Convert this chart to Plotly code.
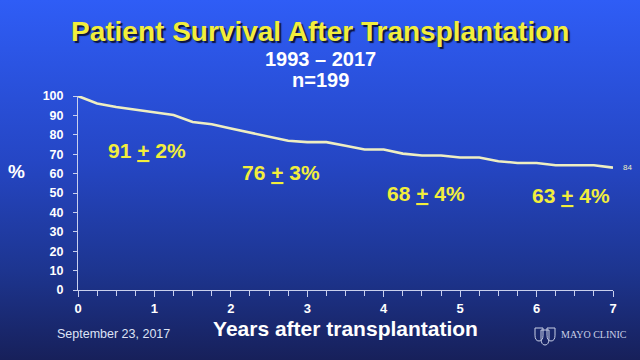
import base64
import plotly.graph_objects as go

# ---- data ----
years = [0, 0.25, 0.5, 0.75, 1.0, 1.25, 1.5, 1.75, 2.0, 2.25, 2.5, 2.75, 3.0, 3.25,
         3.5, 3.75, 4.0, 4.25, 4.5, 4.75, 5.0, 5.25, 5.5, 5.75, 6.0, 6.25, 6.5, 6.75, 7.0]
survival = [100, 96.1, 94.3, 93.0, 91.4, 90.2, 86.6, 85.4, 83.2, 81.0, 78.9, 76.9, 76.2, 76.2,
            74.4, 72.4, 72.4, 70.3, 69.3, 69.3, 68.3, 68.3, 66.4, 65.5, 65.5, 64.3, 64.3, 64.3, 63.1]
label_values = [91, 76, 68, 63]
label_errors = [2, 3, 4, 4]
label_y = [72, 60.5, 50, 48.5]
label_x = [0.9, 2.65, 4.55, 6.45]
x_ticks = [0, 1, 2, 3, 4, 5, 6, 7]
y_ticks = [0, 10, 20, 30, 40, 50, 60, 70, 80, 90, 100]
end_label = "84"

W, H = 640, 360
L, R, T, B = 78, 27, 96, 70
pw, ph = W - L - R, H - T - B


def px(xp, yp):
    return (xp - L) / pw, (H - yp - B) / ph


fig = go.Figure()
fig.add_trace(go.Scatter(
    x=years, y=survival, mode="lines",
    line=dict(color="#eeeec2", width=2.6), cliponaxis=False, hoverinfo="skip",
))

# gradient background as svg image
svg = (
    '<svg xmlns="http://www.w3.org/2000/svg" width="640" height="360" preserveAspectRatio="none">'
    '<defs><linearGradient id="g" x1="0" y1="0" x2="0" y2="1">'
    '<stop offset="0" stop-color="#2f5df6"/>'
    '<stop offset="0.45" stop-color="#2546c4"/>'
    '<stop offset="0.75" stop-color="#1d3590"/>'
    '<stop offset="1" stop-color="#17205a"/>'
    '</linearGradient></defs>'
    '<rect width="640" height="360" fill="url(#g)"/></svg>'
)
uri = "data:image/svg+xml;base64," + base64.b64encode(svg.encode()).decode()
fig.add_layout_image(dict(
    source=uri, xref="paper", yref="paper",
    x=-L / pw, y=1 + T / ph, sizex=W / pw, sizey=H / ph,
    xanchor="left", yanchor="top", sizing="stretch", layer="below",
))

yellow = "#f2ee3c"
SANS = "Liberation Sans, Arial"
for lx, ly, v, e in zip(label_x, label_y, label_values, label_errors):
    fig.add_annotation(
        x=lx, y=ly, xref="x", yref="y", showarrow=False,
        xanchor="center", yanchor="middle",
        text=f"<b>{v} <u>+</u> {e}%</b>",
        font=dict(family=SANS, size=21, color=yellow),
    )

fig.add_annotation(x=7, y=survival[-1], xref="x", yref="y", showarrow=False,
                   xanchor="left", yanchor="middle", xshift=8, text=end_label,
                   font=dict(family=SANS, size=8, color="#f0f0c0"))


def text_at(text, xp, yp, font):
    x, y = px(xp, yp)
    fig.add_annotation(text=text, x=x, y=y, xref="paper", yref="paper", showarrow=False,
                       xanchor="center", yanchor="middle", font=font)


text_at("<b>Patient Survival After Transplantation</b>", 320, 31,
        dict(family=SANS, size=28, color=yellow, shadow="2px 2px 1px #0c1440"))
text_at("<b>1993 – 2017</b>", 320, 59, dict(family=SANS, size=20, color="white"))
text_at("<b>n=199</b>", 320, 80, dict(family=SANS, size=20, color="white"))
text_at("<b>%</b>", 16, 171, dict(family=SANS, size=19, color="white"))
text_at("September 23, 2017", 113, 334, dict(family=SANS, size=12.5, color="#dde3f5"))
text_at("MAYO CLINIC", 594, 334, dict(family="Liberation Serif, Times New Roman", size=10, color="#c8cfe6"))

# Mayo logo: three small shields outlines
def shield(x0p, x1p, y0p, y1p):
    xa, ya = px(x0p, y0p)
    xb, yb = px(x1p, y1p)
    xm = (xa + xb) / 2
    ymid = ya + (yb - ya) * 0.55
    path = (f"M {xa},{ya} L {xb},{ya} L {xb},{ymid} "
            f"Q {xb},{yb} {xm},{yb} Q {xa},{yb} {xa},{ymid} Z")
    fig.add_shape(type="path", xref="paper", yref="paper", path=path,
                  line=dict(color="#c8cfe6", width=1))

shield(535, 543, 328, 341)
shield(541, 549, 330, 345)
shield(547, 555, 328, 341)

fig.update_layout(
    width=W, height=H, margin=dict(l=L, r=R, t=T, b=B),
    paper_bgcolor="#1d3590", plot_bgcolor="rgba(0,0,0,0)",
    showlegend=False,
    xaxis=dict(range=[0, 7], tickvals=x_ticks, showgrid=False, zeroline=False,
               showline=True, linecolor="#c9d0ee", linewidth=1,
               ticks="outside", ticklen=6, tickcolor="#c9d0ee",
               minor=dict(dtick=0.25, ticks="outside", ticklen=5, tickcolor="#c9d0ee"),
               tickfont=dict(family=SANS, size=13, color="white", weight="bold"),
               title=dict(text="<b>Years after transplantation</b>", standoff=6,
                          font=dict(family=SANS, size=21, color="white"))),
    yaxis=dict(range=[0, 100], tickvals=y_ticks, showgrid=False, zeroline=False,
               showline=True, linecolor="#c9d0ee", linewidth=1,
               ticks="outside", ticklen=4, tickcolor="#c9d0ee", ticklabelstandoff=7,
               tickfont=dict(family=SANS, size=12.5, color="white", weight="bold")),
)

fig.write_html("out.html", config={"displayModeBar": False},
               post_script="document.body.style.margin='0';document.body.style.overflow='hidden';")
